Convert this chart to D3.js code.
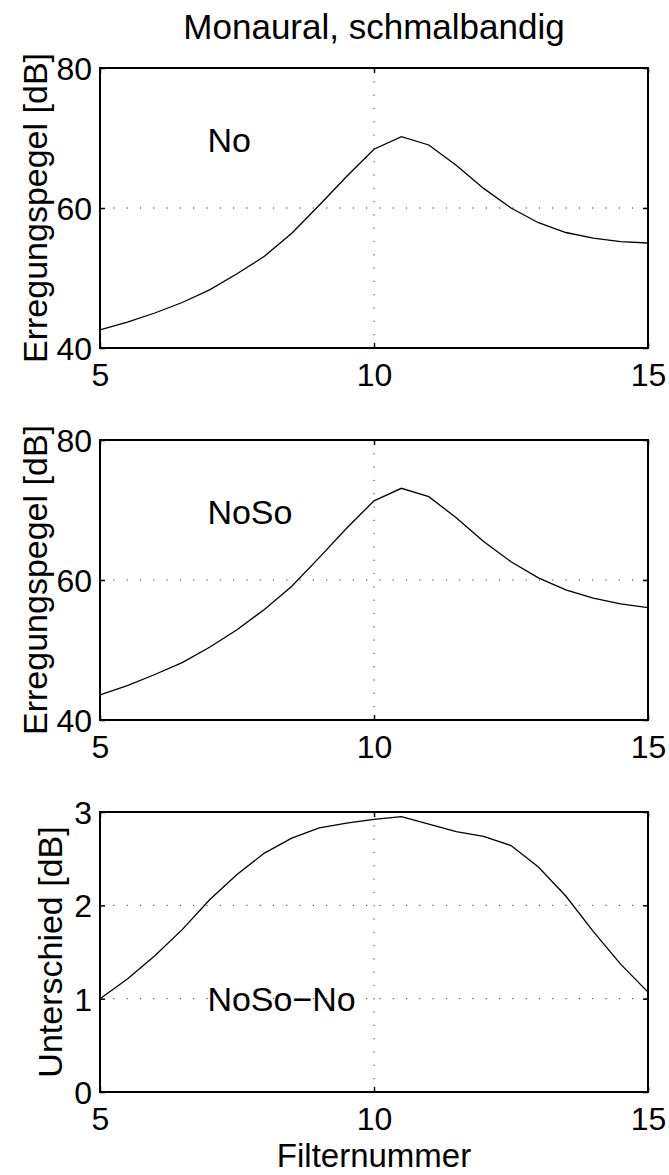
<!DOCTYPE html>
<html>
<head>
<meta charset="utf-8">
<script src="https://cdn.jsdelivr.net/npm/d3@7"></script>
<style>
    body { margin: 0; background: #fff; }
    text { font-family: "Liberation Sans", Arial, Helvetica, sans-serif; fill: #000; }
</style>
</head>
<body>
<script>
// Filter numbers along the x axis
var filters = [5, 5.5, 6, 6.5, 7, 7.5, 8, 8.5, 9, 9.5, 10, 10.5, 11, 11.5, 12, 12.5, 13, 13.5, 14, 14.5, 15];

// Excitation level, No condition [dB]
var noLevel = [42.6, 43.7, 45.0, 46.5, 48.3, 50.6, 53.1, 56.4, 60.4, 64.5, 68.4, 70.2, 69.0, 66.1, 62.8, 60.0, 57.9, 56.5, 55.7, 55.2, 55.0];

// Excitation level, NoSo condition [dB]
var noSoLevel = [43.6, 44.9, 46.5, 48.2, 50.4, 52.9, 55.8, 59.1, 63.2, 67.4, 71.3, 73.1, 71.9, 68.9, 65.5, 62.6, 60.3, 58.6, 57.4, 56.6, 56.05];

// Difference NoSo - No [dB]
var diffLevel = [1.0, 1.21, 1.46, 1.74, 2.06, 2.33, 2.56, 2.72, 2.83, 2.88, 2.92, 2.95, 2.87, 2.79, 2.74, 2.64, 2.41, 2.10, 1.72, 1.37, 1.07];

var xTicks = [5, 10, 15];
var levelTicks = [40, 60, 80];
var diffTicks = [0, 1, 2, 3];

var width = 669, height = 1175;
var left = 100, right = 648, panelH = 280;

var svg = d3.select("body").append("svg")
    .attr("width", width)
    .attr("height", height);

var panels = [
    {top: 68, values: noLevel, domain: [40, 80], ticks: levelTicks, ylabel: "Erregungspegel [dB]", labelX: 47, name: "No", nameAt: [6.96, 68]},
    {top: 440, values: noSoLevel, domain: [40, 80], ticks: levelTicks, ylabel: "Erregungspegel [dB]", labelX: 47, name: "NoSo", nameAt: [6.96, 68]},
    {top: 812, values: diffLevel, domain: [0, 3], ticks: diffTicks, ylabel: "Unterschied [dB]", labelX: 62, name: "NoSo\u2212No", nameAt: [6.96, 0.865]}
];

var x = d3.scaleLinear().domain([5, 15]).range([left, right]);

panels.forEach(function (p) {
    var y = d3.scaleLinear().domain(p.domain).range([p.top + panelH, p.top]);
    var g = svg.append("g");

    // Dotted grid
    g.selectAll(".gx").data(xTicks).enter().append("line")
        .attr("x1", function (d) { return x(d); })
        .attr("x2", function (d) { return x(d); })
        .attr("y1", p.top)
        .attr("y2", p.top + panelH)
        .style("stroke", "#333")
        .style("stroke-width", 1)
        .style("stroke-dasharray", "1.2,12.1");
    g.selectAll(".gy").data(p.ticks).enter().append("line")
        .attr("x1", left)
        .attr("x2", right)
        .attr("y1", function (d) { return y(d); })
        .attr("y2", function (d) { return y(d); })
        .style("stroke", "#333")
        .style("stroke-width", 1)
        .style("stroke-dasharray", "1.2,12.1");

    // Curve
    var line = d3.line()
        .x(function (d, i) { return x(filters[i]); })
        .y(function (d) { return y(d); });
    g.append("path")
        .datum(p.values)
        .attr("d", line)
        .style("fill", "none")
        .style("stroke", "#000")
        .style("stroke-width", 1.3);

    // Axes with inward ticks
    g.append("g")
        .attr("transform", "translate(0," + (p.top + panelH) + ")")
        .call(d3.axisBottom(x).tickValues(xTicks).tickFormat(d3.format("d"))
            .tickSizeInner(-5).tickSizeOuter(0).tickPadding(15));
    var leftAx = g.append("g")
        .attr("transform", "translate(" + left + ",0)")
        .call(d3.axisLeft(y).tickValues(p.ticks).tickFormat(d3.format("d"))
            .tickSizeInner(-5).tickSizeOuter(0).tickPadding(8));
    g.append("g")
        .attr("transform", "translate(0," + p.top + ")")
        .call(d3.axisTop(x).tickValues(xTicks).tickSizeInner(-5).tickSizeOuter(0).tickFormat(""));
    g.append("g")
        .attr("transform", "translate(" + right + ",0)")
        .call(d3.axisRight(y).tickValues(p.ticks).tickSizeInner(-5).tickSizeOuter(0).tickFormat(""));

    g.selectAll(".domain").remove();
    g.selectAll(".tick line").style("stroke", "#000").style("stroke-width", 1.5);
    g.selectAll(".tick text")
        .style("font-size", "32px")
        .style("font-family", "'Liberation Sans', Arial, sans-serif")
        .attr("fill", "#000");
    leftAx.selectAll(".tick text").attr("dy", "0.36em");

    // Box
    g.append("rect")
        .attr("x", left)
        .attr("y", p.top)
        .attr("width", right - left)
        .attr("height", panelH)
        .style("fill", "none")
        .style("stroke", "#000")
        .style("stroke-width", 2);

    // Y label
    g.append("text")
        .attr("transform", "translate(" + p.labelX + "," + (p.top + panelH / 2) + ") rotate(-90)")
        .attr("text-anchor", "middle")
        .style("font-size", "34px")
        .text(p.ylabel);

    // Condition label inside the axes
    g.append("text")
        .attr("x", x(p.nameAt[0]))
        .attr("y", y(p.nameAt[1]))
        .style("font-size", "34px")
        .text(p.name);
});

// Title and x label
svg.append("text")
    .attr("x", (left + right) / 2)
    .attr("y", 39)
    .attr("text-anchor", "middle")
    .style("font-size", "35px")
    .text("Monaural, schmalbandig");

svg.append("text")
    .attr("x", (left + right) / 2)
    .attr("y", 1167)
    .attr("text-anchor", "middle")
    .style("font-size", "33px")
    .text("Filternummer");
</script>
</body>
</html>
